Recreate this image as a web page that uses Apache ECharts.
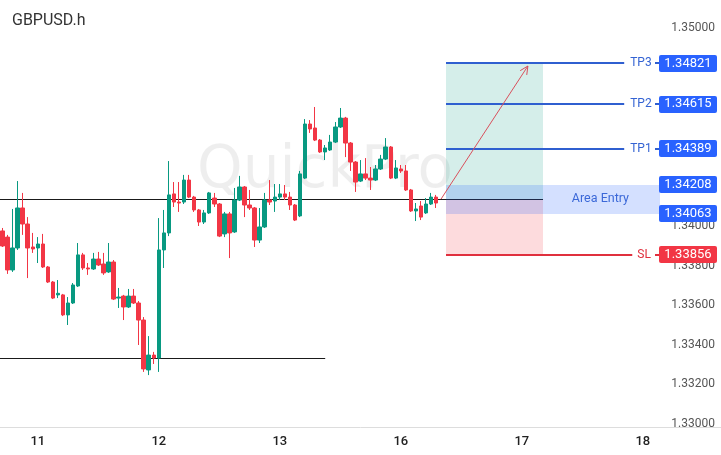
<!DOCTYPE html>
<html><head><meta charset="utf-8">
<script src="https://cdn.jsdelivr.net/npm/echarts@6/dist/echarts.min.js"></script>
<style>html,body{margin:0;padding:0;background:#fff}#c{width:721px;height:455px}</style>
</head><body><div id="c"></div>
<script>
const symbolName = 'GBPUSD.h';
const watermark = 'QuickPro';
// hourly slots per day (weekend skipped)
const dayNames = ['10', '11', '12', '13', '16', '17', '18'];
const dayFirstHour = [17, 0, 0, 0, 0, 0, 0];
const dayLastHour = [23, 23, 23, 23, 23, 23, 15];

const open = [1.33975,1.33944,1.33778,1.33889,1.34091,1.34010,1.33894,1.33889,1.33909,1.33793,
1.33717,1.33652,1.33652,1.33551,1.33611,1.33697,1.33854,1.33788,1.33783,1.33833,
1.33808,1.33768,1.33818,1.33636,1.33646,1.33591,1.33646,1.33611,1.33525,1.33273,
1.33348,1.33333,1.33879,1.33965,1.34162,1.34121,1.34121,1.34232,1.34146,1.34081,
1.34020,1.34066,1.34141,1.34111,1.33960,1.34061,1.33970,1.34131,1.34197,1.34106,
1.34091,1.33929,1.33995,1.34131,1.34126,1.34146,1.34162,1.34146,1.34106,1.34051,
1.34242,1.34515,1.34495,1.34434,1.34374,1.34384,1.34424,1.34500,1.34545,1.34419,
1.34323,1.34227,1.34263,1.34242,1.34232,1.34288,1.34338,1.34399,1.34242,1.34288,
1.34278,1.34182,1.34076,1.34101,1.34066,1.34111,1.34146];
const close = [1.33899,1.33778,1.33889,1.34091,1.34010,1.33889,1.33884,1.33909,1.33793,1.33717,
1.33636,1.33660,1.33551,1.33611,1.33702,1.33854,1.33788,1.33783,1.33833,1.33803,
1.33763,1.33818,1.33631,1.33641,1.33591,1.33646,1.33611,1.33525,1.33278,1.33348,
1.33333,1.33879,1.33965,1.34157,1.34121,1.34116,1.34232,1.34146,1.34081,1.34020,
1.34066,1.34167,1.34111,1.33949,1.34061,1.33965,1.34131,1.34197,1.34106,1.34091,
1.33929,1.33995,1.34131,1.34121,1.34146,1.34162,1.34146,1.34106,1.34030,1.34263,
1.34515,1.34490,1.34434,1.34374,1.34394,1.34424,1.34500,1.34545,1.34419,1.34323,
1.34222,1.34263,1.34242,1.34232,1.34288,1.34338,1.34399,1.34242,1.34293,1.34278,
1.34182,1.34076,1.34086,1.34045,1.34111,1.34146,1.34116];
const high = [1.33990,1.33955,1.34086,1.34227,1.34167,1.34045,1.33965,1.33944,1.33960,1.33798,
1.33722,1.33727,1.33657,1.33641,1.33712,1.33914,1.33864,1.33813,1.33864,1.33869,
1.33864,1.33914,1.33828,1.33687,1.33652,1.33682,1.33682,1.33621,1.33540,1.33444,
1.33364,1.34040,1.34081,1.34328,1.34222,1.34222,1.34258,1.34258,1.34152,1.34086,
1.34081,1.34172,1.34167,1.34116,1.34071,1.34071,1.34192,1.34253,1.34202,1.34182,
1.34096,1.34091,1.34167,1.34232,1.34212,1.34212,1.34207,1.34172,1.34111,1.34278,
1.34540,1.34535,1.34601,1.34439,1.34409,1.34460,1.34525,1.34596,1.34551,1.34424,
1.34328,1.34333,1.34343,1.34298,1.34308,1.34359,1.34444,1.34404,1.34333,1.34308,
1.34308,1.34187,1.34116,1.34126,1.34141,1.34167,1.34157];
const low = [1.33894,1.33758,1.33768,1.33879,1.33955,1.33737,1.33864,1.33813,1.33788,1.33712,
1.33631,1.33636,1.33545,1.33500,1.33606,1.33692,1.33778,1.33753,1.33778,1.33798,
1.33753,1.33763,1.33626,1.33586,1.33525,1.33586,1.33606,1.33399,1.33263,1.33247,
1.33303,1.33263,1.33788,1.33949,1.34096,1.34071,1.34111,1.34141,1.34071,1.34000,
1.34010,1.34061,1.34096,1.33944,1.33944,1.33838,1.33965,1.34126,1.34045,1.34081,
1.33894,1.33914,1.33990,1.34106,1.34071,1.34131,1.34131,1.34081,1.34025,1.34045,
1.34237,1.34470,1.34429,1.34369,1.34333,1.34379,1.34419,1.34495,1.34348,1.34278,
1.34172,1.34222,1.34232,1.34182,1.34227,1.34283,1.34333,1.34237,1.34237,1.34268,
1.34177,1.34071,1.34025,1.34030,1.34061,1.34106,1.34091];

const yTicks = [1.33, 1.332, 1.334, 1.336, 1.338, 1.34, 1.342, 1.344, 1.346, 1.348, 1.35];
const levelNames = ['TP3', 'TP2', 'TP1'];
const levelValues = [1.34821, 1.34615, 1.34389];
const entryHigh = 1.34208;
const entryLow = 1.34063;
const entryLine = 1.34136;
const stopLoss = 1.33856;
const supportLine = 1.33333;
const arrowFrom = [86.97, 1.34136];
const arrowTo = [104.2, 1.34808];

// positions in category units
const zoneStart = 87.96, zoneEnd = 107.2, tpLineEnd = 123.3, slLineEnd = 124.9, bandEnd = 130.4;
const entryLineStart = -0.5, supportLineEnd = 64;

const categories = [];
for (let d = 0; d < dayNames.length; d++) {
  for (let h = dayFirstHour[d]; h <= dayLastHour[d]; h++) {
    categories.push(dayNames[d] + ' ' + String(h).padStart(2, '0') + ':00');
  }
}
const candles = open.map((o, i) => [o, close[i], low[i], high[i]]);

const BLUE = '#2962ff', RED = '#f23645', UP = '#089981';

function renderOverlay(params, api) {
  const c = (x, v) => api.coord([x, v]);
  const W = api.getWidth();
  const ch = [];
  const rect = (x0, v0, x1, v1, fill) => {
    const a = c(x0, v0), b = c(x1, v1);
    const x = Math.round(Math.min(a[0], b[0])), y = Math.round(Math.min(a[1], b[1]));
    ch.push({type: 'rect', shape: {x, y, width: Math.round(Math.max(a[0], b[0])) - x, height: Math.round(Math.max(a[1], b[1])) - y}, style: {fill}});
  };
  const hline = (px0, px1, v, stroke, lw) => {
    const yy = c(0, v)[1];
    const y = lw % 2 ? Math.round(yy) + 0.5 : Math.round(yy);
    ch.push({type: 'line', shape: {x1: px0, y1: y, x2: px1, y2: y}, style: {stroke, lineWidth: lw}});
  };
  const px = (x) => c(x, entryLine)[0];
  const text = (x, y, t, fill, align, font) => ch.push({type: 'text', style: {x, y, text: t, fill, align, verticalAlign: 'middle', font}});

  rect(zoneStart, levelValues[0], zoneEnd, entryLine, 'rgba(8,153,129,0.17)');
  rect(zoneStart, entryLine, zoneEnd, stopLoss, 'rgba(242,54,69,0.18)');
  hline(px(entryLineStart), px(zoneEnd), entryLine, '#1a1a1a', 1);
  hline(px(-0.5), px(supportLineEnd), supportLine, '#1a1a1a', 1);
  rect(zoneStart, entryHigh, bandEnd, entryLow, 'rgba(41,98,255,0.2)');
  text(px(bandEnd) - 31, c(0, (entryHigh + entryLow) / 2)[1], 'Area Entry', '#3b68d8', 'right', '12.5px Roboto');

  const boxL = W - 62, boxW = 58;
  const box = (v, fill) => {
    const y = c(0, v)[1];
    ch.push({type: 'rect', shape: {x: boxL, y: Math.round(y - 8.5), width: boxW, height: 17, r: 2}, style: {fill}});
    text(boxL + boxW / 2, y, v.toFixed(5), '#fff', 'center', '13px Roboto');
  };
  levelValues.forEach((v, i) => {
    const y = c(0, v)[1];
    hline(px(zoneStart), px(tpLineEnd), v, '#2f5fd0', 2);
    text(px(tpLineEnd) + 6, y, levelNames[i], '#3463d3', 'left', '12px Roboto');
    hline(W - 66, W - 61, v, '#2f5fd0', 2);
    box(v, BLUE);
  });
  hline(px(zoneStart), px(slLineEnd), stopLoss, '#e0303e', 2);
  text(px(slLineEnd) + 5, c(0, stopLoss)[1], 'SL', '#e0303e', 'left', '12px Roboto');
  hline(W - 66, W - 61, stopLoss, '#e0303e', 2);
  box(entryHigh, BLUE);
  box(entryLow, BLUE);
  box(stopLoss, RED);

  // arrow
  const a = c(arrowFrom[0], arrowFrom[1]), b = c(arrowTo[0], arrowTo[1]);
  const ang = Math.atan2(b[1] - a[1], b[0] - a[0]);
  const L = 9, sp = 0.45;
  ch.push({type: 'polyline', shape: {points: [a, b]}, style: {stroke: '#d9505c', lineWidth: 1, fill: null}});
  ch.push({type: 'polyline', shape: {points: [
    [b[0] - L * Math.cos(ang - sp), b[1] - L * Math.sin(ang - sp)], b,
    [b[0] - L * Math.cos(ang + sp), b[1] - L * Math.sin(ang + sp)]]}, style: {stroke: '#d9505c', lineWidth: 1, fill: null}});
  return {type: 'group', children: ch};
}

const chart = echarts.init(document.getElementById('c'), null, {renderer: 'canvas'});
chart.setOption({
  animation: false,
  backgroundColor: '#fff',
  textStyle: {fontFamily: 'Roboto'},
  title: {text: symbolName, left: 7, top: 8, textStyle: {fontSize: 16, fontWeight: 'normal', color: '#333', fontFamily: 'Roboto'}},
  graphic: [{type: 'text', left: 197, top: 143, z: -10, silent: true,
    style: {text: watermark, font: '58px "DejaVu Sans"', fill: 'rgba(0,0,0,0.065)'}}],
  grid: {left: 0, right: 0, top: 0, bottom: 28},
  xAxis: [{
    type: 'category', data: categories, boundaryGap: true,
    axisLine: {lineStyle: {color: '#dddddd'}}, axisTick: {show: false},
    axisLabel: {interval: (i, v) => v.endsWith(' 00:00'), formatter: (v) => v.split(' ')[0],
      color: '#222', fontSize: 13, fontWeight: 500, margin: 8},
    splitLine: {show: false}
  }, {
    type: 'value', min: -0.5, max: 142.5, show: false
  }],
  yAxis: [{
    type: 'value', position: 'right', min: 1.329848, max: 1.351414, scale: true,
    axisLine: {show: false}, axisTick: {show: false}, splitLine: {show: false},
    axisLabel: {inside: true, customValues: yTicks, formatter: (v) => v.toFixed(5), color: '#555', fontSize: 12, margin: 6}
  }],
  series: [{
    type: 'custom', xAxisIndex: 1, yAxisIndex: 0, data: [[0, 1.34]], silent: true, clip: false, z: 1,
    renderItem: renderOverlay
  }, {
    type: 'candlestick', xAxisIndex: 0, yAxisIndex: 0, data: candles, barWidth: 4, z: 2,
    itemStyle: {color: UP, color0: RED, borderColor: UP, borderColor0: RED, borderWidth: 1}
  }]
});
</script>
</body></html>
